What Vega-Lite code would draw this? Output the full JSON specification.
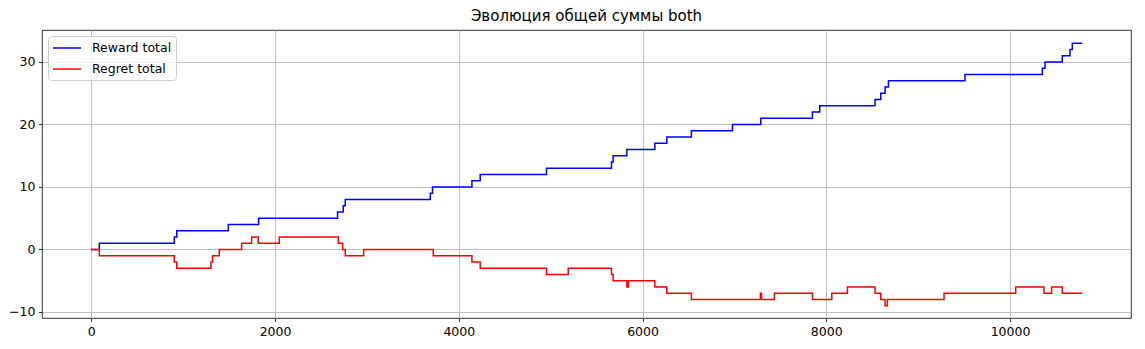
{
  "$schema": "https://vega.github.io/schema/vega-lite/v6.json",
  "width": 1089,
  "height": 288,
  "autosize": "none",
  "padding": {"left": 42, "top": 30, "right": 14, "bottom": 31},
  "background": "white",
  "config": {
    "font": "DejaVu Sans",
    "view": {"stroke": "black", "strokeWidth": 0.8},
    "axis": {
      "grid": true,
      "gridColor": "#b0b0b0",
      "gridWidth": 0.8,
      "domain": false,
      "tickColor": "black",
      "tickWidth": 0.8,
      "tickSize": 3.5,
      "labelPadding": 3.5,
      "labelFont": "DejaVu Sans",
      "labelFontSize": 12.5,
      "labelColor": "black",
      "title": null
    }
  },
  "title": {
    "text": "Эволюция общей суммы both",
    "font": "DejaVu Sans",
    "fontSize": 15,
    "fontWeight": "normal",
    "color": "black",
    "offset": 6,
    "anchor": "middle"
  },
  "data": {
    "values": [
      {"step": 0, "series": "Reward total", "total": 0},
      {"step": 87, "series": "Reward total", "total": 1},
      {"step": 903, "series": "Reward total", "total": 2},
      {"step": 930, "series": "Reward total", "total": 3},
      {"step": 1491, "series": "Reward total", "total": 4},
      {"step": 1821, "series": "Reward total", "total": 5},
      {"step": 2680, "series": "Reward total", "total": 6},
      {"step": 2742, "series": "Reward total", "total": 7},
      {"step": 2764, "series": "Reward total", "total": 8},
      {"step": 3690, "series": "Reward total", "total": 9},
      {"step": 3714, "series": "Reward total", "total": 10},
      {"step": 4143, "series": "Reward total", "total": 11},
      {"step": 4233, "series": "Reward total", "total": 12},
      {"step": 4955, "series": "Reward total", "total": 13},
      {"step": 5662, "series": "Reward total", "total": 14},
      {"step": 5680, "series": "Reward total", "total": 15},
      {"step": 5829, "series": "Reward total", "total": 16},
      {"step": 6134, "series": "Reward total", "total": 17},
      {"step": 6264, "series": "Reward total", "total": 18},
      {"step": 6532, "series": "Reward total", "total": 19},
      {"step": 6979, "series": "Reward total", "total": 20},
      {"step": 7287, "series": "Reward total", "total": 21},
      {"step": 7849, "series": "Reward total", "total": 22},
      {"step": 7929, "series": "Reward total", "total": 23},
      {"step": 8531, "series": "Reward total", "total": 24},
      {"step": 8593, "series": "Reward total", "total": 25},
      {"step": 8640, "series": "Reward total", "total": 26},
      {"step": 8677, "series": "Reward total", "total": 27},
      {"step": 9510, "series": "Reward total", "total": 28},
      {"step": 10352, "series": "Reward total", "total": 29},
      {"step": 10381, "series": "Reward total", "total": 30},
      {"step": 10569, "series": "Reward total", "total": 31},
      {"step": 10653, "series": "Reward total", "total": 32},
      {"step": 10678, "series": "Reward total", "total": 33},
      {"step": 10787, "series": "Reward total", "total": 33},
      {"step": 0, "series": "Regret total", "total": 0},
      {"step": 87, "series": "Regret total", "total": -1},
      {"step": 903, "series": "Regret total", "total": -2},
      {"step": 930, "series": "Regret total", "total": -3},
      {"step": 1302, "series": "Regret total", "total": -2},
      {"step": 1320, "series": "Regret total", "total": -1},
      {"step": 1393, "series": "Regret total", "total": 0},
      {"step": 1636, "series": "Regret total", "total": 1},
      {"step": 1745, "series": "Regret total", "total": 2},
      {"step": 1817, "series": "Regret total", "total": 1},
      {"step": 2046, "series": "Regret total", "total": 2},
      {"step": 2688, "series": "Regret total", "total": 1},
      {"step": 2735, "series": "Regret total", "total": 0},
      {"step": 2764, "series": "Regret total", "total": -1},
      {"step": 2964, "series": "Regret total", "total": 0},
      {"step": 3722, "series": "Regret total", "total": -1},
      {"step": 4143, "series": "Regret total", "total": -2},
      {"step": 4233, "series": "Regret total", "total": -3},
      {"step": 4955, "series": "Regret total", "total": -4},
      {"step": 5191, "series": "Regret total", "total": -3},
      {"step": 5662, "series": "Regret total", "total": -4},
      {"step": 5680, "series": "Regret total", "total": -5},
      {"step": 5829, "series": "Regret total", "total": -6},
      {"step": 5846, "series": "Regret total", "total": -5},
      {"step": 6134, "series": "Regret total", "total": -6},
      {"step": 6264, "series": "Regret total", "total": -7},
      {"step": 6532, "series": "Regret total", "total": -8},
      {"step": 7283, "series": "Regret total", "total": -7},
      {"step": 7295, "series": "Regret total", "total": -8},
      {"step": 7435, "series": "Regret total", "total": -7},
      {"step": 7849, "series": "Regret total", "total": -8},
      {"step": 8060, "series": "Regret total", "total": -7},
      {"step": 8230, "series": "Regret total", "total": -6},
      {"step": 8531, "series": "Regret total", "total": -7},
      {"step": 8593, "series": "Regret total", "total": -8},
      {"step": 8640, "series": "Regret total", "total": -9},
      {"step": 8665, "series": "Regret total", "total": -8},
      {"step": 9282, "series": "Regret total", "total": -7},
      {"step": 10062, "series": "Regret total", "total": -6},
      {"step": 10370, "series": "Regret total", "total": -7},
      {"step": 10453, "series": "Regret total", "total": -6},
      {"step": 10569, "series": "Regret total", "total": -7},
      {"step": 10787, "series": "Regret total", "total": -7}
    ]
  },
  "encoding": {
    "x": {
      "field": "step",
      "type": "quantitative",
      "scale": {"domain": [-537, 11317], "nice": false, "zero": false},
      "axis": {"values": [0, 2000, 4000, 6000, 8000, 10000], "format": "d"}
    },
    "y": {
      "field": "total",
      "type": "quantitative",
      "scale": {"domain": [-10.96, 35.1], "nice": false, "zero": false},
      "axis": {"values": [-10, 0, 10, 20, 30], "format": "d"}
    },
    "color": {
      "field": "series",
      "type": "nominal",
      "scale": {"domain": ["Reward total", "Regret total"], "range": ["#0000ff", "#ff0000"]},
      "legend": {
        "title": null,
        "orient": "top-left",
        "offset": 6,
        "padding": 4,
        "rowPadding": 6,
        "fillColor": "rgba(255,255,255,0.8)",
        "strokeColor": "#d0d0d0",
        "cornerRadius": 3,
        "symbolType": "M-2,0L2,0",
        "symbolSize": 196,
        "symbolOffset": 7,
        "symbolStrokeWidth": 1.5,
        "labelFont": "DejaVu Sans",
        "labelFontSize": 12.5,
        "labelColor": "black",
        "labelOffset": 17
      }
    }
  },
  "layer": [
    {
      "transform": [{"filter": "datum.series === 'Reward total'"}],
      "mark": {"type": "line", "interpolate": "step-after", "strokeWidth": 1.5, "clip": true}
    },
    {
      "transform": [{"filter": "datum.series === 'Regret total'"}],
      "mark": {"type": "line", "interpolate": "step-after", "strokeWidth": 1.5, "clip": true}
    }
  ]
}
